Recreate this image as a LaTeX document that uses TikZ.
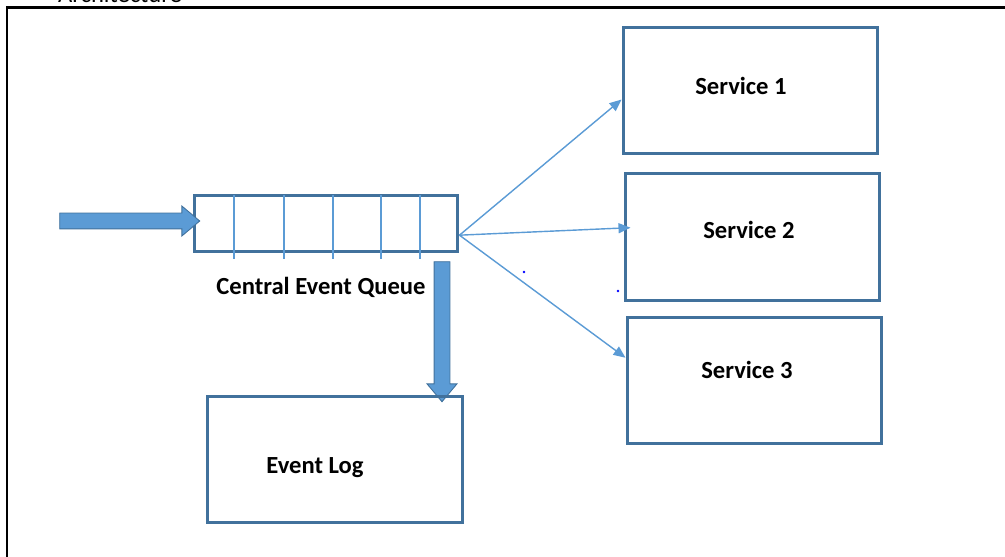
\documentclass[tikz,border=0pt]{standalone}
\usepackage{fontspec}
\setmainfont{Carlito}
\usepackage{tikz}
\usetikzlibrary{positioning,calc,arrows.meta,shapes.arrows}
\definecolor{boxblue}{RGB}{65,113,156}
\definecolor{fillblue}{RGB}{91,155,213}

\begin{document}
\begin{tikzpicture}[x=0.02cm, y=-0.02cm, >={Triangle[length=2.4mm,width=2mm]},
  box/.style = {rectangle, draw=boxblue, line width=0.06cm, minimum width=5.1cm, minimum height=2.54cm, inner sep=0pt},
  queuebox/.style = {rectangle, draw=boxblue, line width=0.06cm, minimum width=5.28cm, minimum height=1.14cm, inner sep=0pt},
  txt/.style = {font=\fontsize{14}{16}\selectfont\bfseries, inner sep=0pt},
  fatarrow/.style = {single arrow, fill=fillblue, draw=boxblue, line width=0.5pt, minimum height=2.8cm, text height=0.3cm, text depth=0pt, single arrow head extend=0.14cm, single arrow tip angle=80, inner sep=0pt},
  divider/.style = {draw=fillblue, line width=0.7pt},
  feed/.style = {->, draw=fillblue, fill=fillblue, line width=0.8pt}]

\useasboundingbox (0,0) rectangle (1005,557);
\draw[line width=0.06cm] (7,557) -- (7,8) -- (1005,8);
\node[font=\fontsize{14}{16}\selectfont, inner sep=0pt] (title) at (120,-6) {Architecture};

\node[queuebox] (queue) at (326,223.5) {};
\foreach \x in {234,284,333,381,420}
  \draw[divider] (\x,195) -- (\x,259);
\node[txt] (queuetext) at (321,287) {Central Event Queue};

\node[fatarrow] (inarrow) at (125,221) {};
\node[fatarrow, rotate=-90] (logarrow) at (442,327) {};

\node[box] (log) at (335,459.5) {};
\node[txt] (logtext) at (315,468) {Event Log};

\node[box] (s1) at (750.5,90.5) {};
\node[box] (s2) at (752.5,237) {};
\node[box] (s3) at (754.5,380.5) {};
\node[txt] (s1text) at (741,86) {Service 1};
\node[txt] (s2text) at (749,230) {Service 2};
\node[txt] (s3text) at (747,370) {Service 3};

\coordinate (fan) at (queue.-5);
\draw[feed] (fan) -- (s1.184);
\draw[feed, shorten >=-0.14cm] (fan) -- (s2.176);
\draw[feed] (fan) -- (s3.170);

\fill[blue] (524,272) circle (0.8pt);
\fill[blue] (618,291) circle (0.8pt);
\end{tikzpicture}
\end{document}
